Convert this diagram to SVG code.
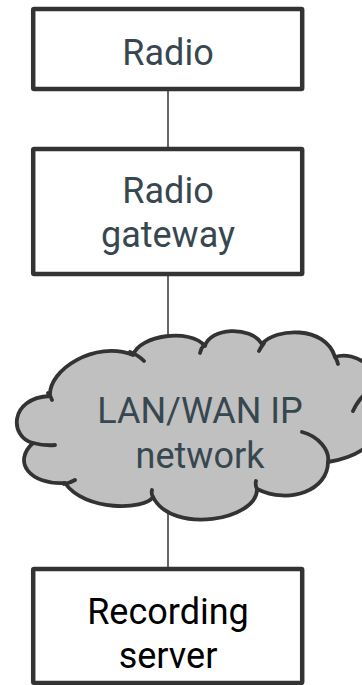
<svg xmlns="http://www.w3.org/2000/svg" width="362" height="685" viewBox="0 0 362 685">
<style>
.box{fill:#ffffff;stroke:#333333;stroke-width:4.5}
.lbl{font-family:Roboto,"Liberation Sans",sans-serif;font-size:36px;fill:#37474f;text-anchor:middle}
.blk{fill:#000000}
.conn{stroke:#333333;stroke-width:1.5;fill:none}
.cloud{fill:#c0c0c0;stroke:#333333;stroke-width:3.8;stroke-linejoin:round}
.curl{fill:none;stroke:#333333;stroke-width:3.8;stroke-linecap:round}
</style>
<rect width="362" height="685" fill="#ffffff"/>
<g id="connectors">
<line class="conn" x1="168" y1="91" x2="168" y2="148"/>
<line class="conn" x1="168" y1="276" x2="168" y2="345"/>
<line class="conn" x1="168" y1="510" x2="168" y2="568"/>
</g>
<g id="radio">
<rect class="box" x="33.2" y="8.9" width="269" height="80" rx="1"/>
<text class="lbl" x="168" y="65">Radio</text>
</g>
<g id="radio-gateway">
<rect class="box" x="33.2" y="148.9" width="269" height="125" rx="1"/>
<text class="lbl" x="168" y="203">Radio</text>
<text class="lbl" x="168" y="247">gateway</text>
</g>
<g id="network">
<path class="cloud" d="M50,396 C48,370 95,340 133,355 C140,335 190,328 205,346 C210,328 250,325 262,344 C275,328 325,325 335,357 C355,350 385,370 380,398 C395,420 375,455 328,462 C328,490 290,505 257,489 C258,520 172,535 153,497 C145,510 85,512 65,483 C30,485 12,462 33,443 C10,438 8,398 50,396 Z"/>
<path class="curl" d="M130,352 Q138,355 144,361 M204,345 Q201,348 200,353 M264,343 Q261,347 259,351 M335,357 Q337,360 338,364 M366,393 Q358,400 353,411 M302,432 C318,436 330,450 328,462 M257,489 Q255,485 256,481 M153,497 Q151,494 152,490 M64,484 Q70,483 75,480 M33,443 Q45,446 55,445 M48,393 Q51,396 52,400"/>
<text class="lbl" x="200" y="423">LAN/WAN IP</text>
<text class="lbl" x="200" y="468">network</text>
</g>
<g id="recording-server">
<rect class="box" x="33.2" y="568.9" width="269" height="114" rx="1"/>
<text class="lbl blk" x="168" y="624">Recording</text>
<text class="lbl blk" x="168" y="668">server</text>
</g>
</svg>
